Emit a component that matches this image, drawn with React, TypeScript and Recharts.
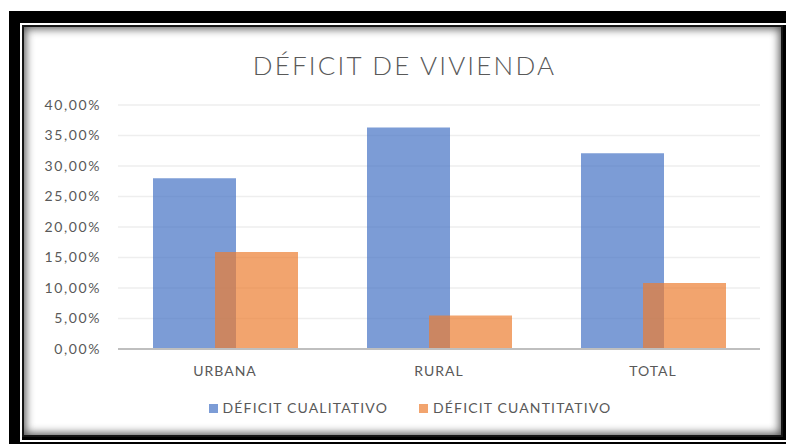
import { BarChart, Bar, XAxis, YAxis, CartesianGrid } from 'recharts';

const categories = ['URBANA', 'RURAL', 'TOTAL'];
const cualitativo = [28.0, 36.3, 32.1];
const cuantitativo = [15.9, 5.5, 10.8];
const yTicks = [0, 5, 10, 15, 20, 25, 30, 35, 40];

const seriesNames = ['DÉFICIT CUALITATIVO', 'DÉFICIT CUANTITATIVO'];
const seriesColors = ['#4472C4', '#ED7D31'];

const data = categories.map((name, i) => ({
  name,
  cualitativo: cualitativo[i],
  cuantitativo: cuantitativo[i],
}));

const font = 'Lato, "Open Sans", sans-serif';
const textColor = '#595959';

const formatPct = (v: number) => `${v.toFixed(2).replace('.', ',')}%`;

function ChartLegend() {
  return (
    <div
      style={{
        position: 'absolute',
        left: 17,
        width: 786,
        top: 399,
        display: 'flex',
        justifyContent: 'center',
        gap: 31,
        fontFamily: font,
        fontSize: 14,
        letterSpacing: 1.15,
        lineHeight: '18px',
        color: textColor,
      }}
    >
      {seriesNames.map((n, i) => (
        <div key={n} style={{ display: 'flex', alignItems: 'center', gap: 5 }}>
          <span style={{ width: 9, height: 9, background: seriesColors[i], opacity: 0.7, display: 'inline-block' }} />
          <span>{n}</span>
        </div>
      ))}
    </div>
  );
}

export default function App() {
  return (
    <div style={{ position: 'fixed', left: 0, top: 0, width: 786, height: 447, overflow: 'hidden', background: '#fff' }}>
      {/* black frame */}
      <div style={{ position: 'absolute', left: 9, top: 11, width: 800, height: 433, background: '#000' }} />
      <div style={{ position: 'absolute', left: 20, top: 23, width: 780, height: 419, boxSizing: 'border-box', border: '2px solid #fff', background: '#000' }} />
      <div
        style={{
          position: 'absolute',
          left: 22,
          top: 25,
          width: 761,
          height: 412,
          background: '#fff',
          boxShadow: 'inset 0 0 0 2px #151515, inset 0 0 9px 4px rgba(0,0,0,0.65)',
        }}
      />
      <div
        style={{
          position: 'absolute',
          left: 24,
          width: 761,
          top: 48,
          textAlign: 'center',
          fontFamily: font,
          fontSize: 26,
          fontWeight: 300,
          letterSpacing: 2.2,
          color: textColor,
          lineHeight: '34px',
        }}
      >
        DÉFICIT DE VIVIENDA
      </div>
      <div style={{ position: 'absolute', left: 0, top: 0 }}>
        <BarChart
          width={786}
          height={447}
          data={data}
          margin={{ top: 105, right: 26, left: 0, bottom: 68 }}
          barSize={83}
          barGap={-21}
        >
          <CartesianGrid vertical={false} stroke="#EEEEEE" strokeWidth={1.3} />
          <XAxis
            dataKey="name"
            height={30}
            axisLine={{ stroke: '#BFBFBF', strokeWidth: 2 }}
            tickLine={false}
            tickSize={0}
            tickMargin={17}
            tick={{ fill: textColor, fontSize: 14, fontFamily: font, letterSpacing: 1 }}
          />
          <YAxis
            width={118}
            domain={[0, 40]}
            ticks={yTicks}
            axisLine={false}
            tickLine={false}
            tickSize={0}
            tickMargin={17}
            tickFormatter={formatPct}
            tick={{ fill: textColor, fontSize: 14, fontFamily: font, letterSpacing: 1.6 }}
          />
          <Bar dataKey="cualitativo" name={seriesNames[0]} fill={seriesColors[0]} fillOpacity={0.7} isAnimationActive={false} />
          <Bar dataKey="cuantitativo" name={seriesNames[1]} fill={seriesColors[1]} fillOpacity={0.7} isAnimationActive={false} />
        </BarChart>
      </div>
      <ChartLegend />
    </div>
  );
}
